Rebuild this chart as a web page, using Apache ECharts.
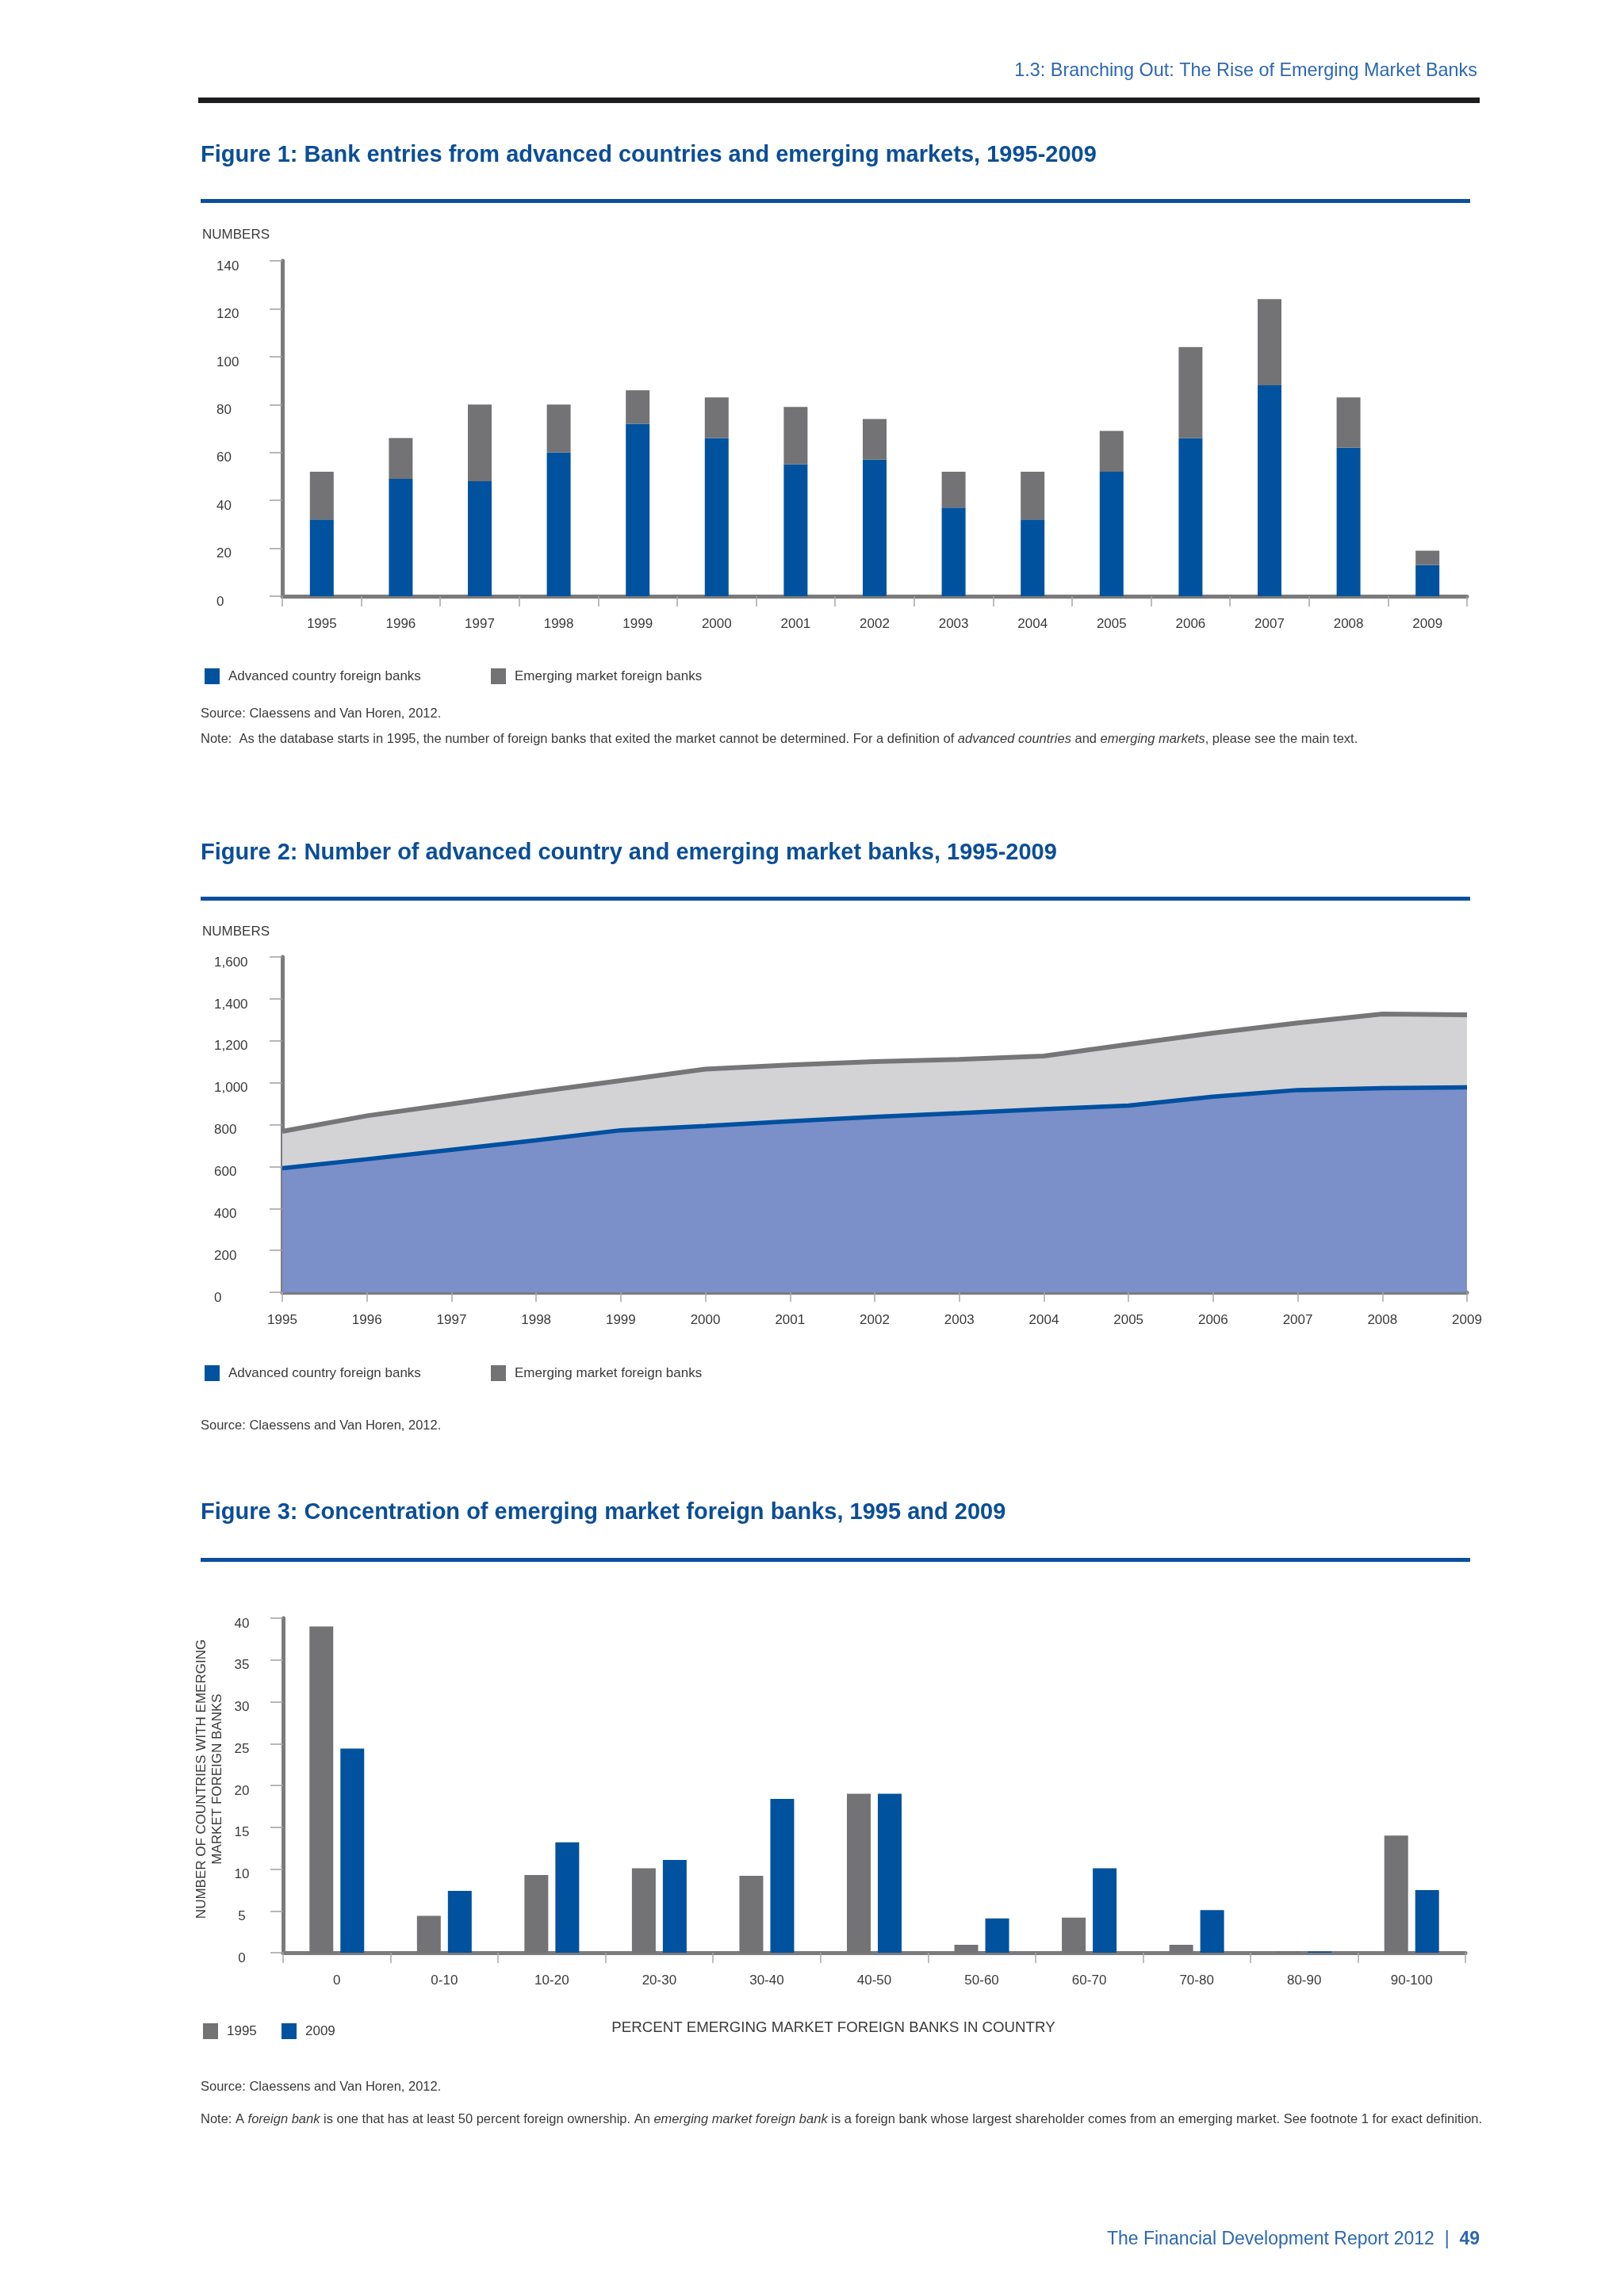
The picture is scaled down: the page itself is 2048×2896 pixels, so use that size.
<!DOCTYPE html>
<html>
<head>
<meta charset="utf-8">
<script src="https://cdn.jsdelivr.net/npm/echarts@6/dist/echarts.min.js"></script>
<style>
html,body{margin:0;padding:0;background:#ffffff;}
#c{width:2048px;height:2896px;}
</style>
</head>
<body>
<div id="c"></div>
<script>
// ---------- DATA ----------
const years = ['1995','1996','1997','1998','1999','2000','2001','2002','2003','2004','2005','2006','2007','2008','2009'];
// Figure 1: bank entries
const entriesAdvanced = [32, 49, 48, 60, 72, 66, 55, 57, 37, 32, 52, 66, 88, 62, 13];
const entriesEmerging = [20, 17, 32, 20, 14, 17, 24, 17, 15, 20, 17, 38, 36, 21, 6];
const fig1Ticks = {min: 0, max: 140, interval: 20};
// Figure 2: number of banks
const banksAdvanced = [592, 635, 680, 725, 773, 793, 816, 837, 855, 874, 891, 933, 965, 974, 978];
const banksEmerging = [176, 207, 218, 231, 237, 272, 269, 264, 256, 253, 292, 304, 320, 354, 346];
const fig2Ticks = {min: 0, max: 1600, interval: 200};
// Figure 3: concentration
const shareBins = ['0','0-10','10-20','20-30','30-40','40-50','50-60','60-70','70-80','80-90','90-100'];
const countries1995 = [39, 4.4, 9.3, 10.1, 9.2, 19, 0.95, 4.2, 0.95, 0.15, 14];
const countries2009 = [24.4, 7.4, 13.2, 11.1, 18.4, 19, 4.1, 10.1, 5.1, 0.15, 7.5];
const fig3Ticks = {min: 0, max: 40, interval: 5};

// ---------- STYLE ----------
const FONT = '"Liberation Sans", Arial, Helvetica, sans-serif';
const BLUE = '#00529f';
const GRAY = '#737375';
const AXIS = '#7b7b7d';
const TXT = '#3a3a3a';
const TITLE = '#0b4e98';
const HEAD = '#2c68b0';

const chart = echarts.init(document.getElementById('c'), null, {renderer: 'canvas'});

function yAxisCfg(t, align, margin) {
  return {
    type: 'value', min: t.min, max: t.max, interval: t.interval,
    axisLine: {show: true, lineStyle: {color: AXIS, width: 5}},
    axisTick: {show: true, length: 16, lineStyle: {color: '#a0a0a2', width: 1.5}},
    splitLine: {show: false},
    axisLabel: {
      color: TXT, fontFamily: FONT, fontSize: 17, align: align, margin: margin,
      verticalAlign: 'top', lineHeight: 14,
      formatter: v => v.toLocaleString('en-US')
    }
  };
}
function xAxisCfg(cats, boundary, tickLen) {
  return {
    type: 'category', data: cats, boundaryGap: boundary,
    axisLine: {show: true, lineStyle: {color: AXIS, width: 5}},
    axisTick: {show: true, length: tickLen, interval: 0, alignWithLabel: false, lineStyle: {color: '#a8a8aa', width: 1.5}},
    axisLabel: {color: TXT, fontFamily: FONT, fontSize: 17, margin: 27, interval: 0},
    splitLine: {show: false}
  };
}
function txt(x, y, text, size, color, opts) {
  opts = opts || {};
  return {
    type: 'text', x: x, y: y, rotation: opts.rotation || 0, silent: true,
    style: Object.assign({
      text: text, fill: color, fontFamily: FONT, fontSize: size,
      fontWeight: opts.weight || 'normal',
      textAlign: opts.align || 'left', textVerticalAlign: 'middle',
      align: opts.align || 'left', verticalAlign: 'middle'
    }, opts.extra || {})
  };
}
function rule(x, y, w, h, color) {
  return {type: 'rect', silent: true, shape: {x: x, y: y, width: w, height: h}, style: {fill: color}};
}
function legendCfg(name, left, top) {
  return {
    data: [name], left: left, top: top, icon: 'rect', itemWidth: 19, itemHeight: 20,
    selectedMode: false, padding: 0,
    textStyle: {color: TXT, fontFamily: FONT, fontSize: 17, padding: [0, 0, 0, 6]}
  };
}
const NS = 16.5;
const noteRich = {
  n: {fontFamily: FONT, fontSize: NS, fill: TXT, color: TXT},
  i: {fontFamily: FONT, fontSize: NS, fill: TXT, color: TXT, fontStyle: 'italic'}
};
const TS = 29;

const option = {
  backgroundColor: '#ffffff',
  animation: false,
  grid: [
    {left: 356, right: 198, top: 329, height: 423},
    {left: 356, right: 198, top: 1207, height: 423},
    {left: 357, right: 200, top: 2041, height: 422}
  ],
  xAxis: [
    Object.assign(xAxisCfg(years, true, 13), {gridIndex: 0}),
    Object.assign(xAxisCfg(years, false, 12), {gridIndex: 1}),
    Object.assign(xAxisCfg(shareBins, true, 13), {gridIndex: 2})
  ],
  yAxis: [
    Object.assign(yAxisCfg(fig1Ticks, 'left', 83), {gridIndex: 0}),
    Object.assign(yAxisCfg(fig2Ticks, 'left', 86), {gridIndex: 1}),
    Object.assign(yAxisCfg(fig3Ticks, 'center', 52), {gridIndex: 2})
  ],
  legend: [
    legendCfg('Advanced country foreign banks', 258, 843),
    legendCfg('Emerging market foreign banks', 619, 843),
    legendCfg('Advanced country foreign banks', 258, 1722),
    legendCfg('Emerging market foreign banks', 619, 1722),
    legendCfg('1995', 256, 2552),
    legendCfg('2009', 355, 2552)
  ],
  series: [
    {name: 'Advanced country foreign banks', type: 'bar', stack: 'entries', xAxisIndex: 0, yAxisIndex: 0,
     barWidth: 30, itemStyle: {color: BLUE}, data: entriesAdvanced},
    {name: 'Emerging market foreign banks', type: 'bar', stack: 'entries', xAxisIndex: 0, yAxisIndex: 0,
     barWidth: 30, itemStyle: {color: GRAY}, data: entriesEmerging},
    {name: 'Advanced country foreign banks', type: 'line', stack: 'banks', xAxisIndex: 1, yAxisIndex: 1, z: 4,
     symbol: 'none', lineStyle: {color: '#0050a0', width: 5.5}, itemStyle: {color: '#0050a0'},
     areaStyle: {color: '#7b8fc8', opacity: 1}, data: banksAdvanced},
    {name: 'Emerging market foreign banks', type: 'line', stack: 'banks', xAxisIndex: 1, yAxisIndex: 1, z: 3,
     symbol: 'none', lineStyle: {color: '#767678', width: 6}, itemStyle: {color: '#767678'},
     areaStyle: {color: '#d3d3d5', opacity: 1}, data: banksEmerging},
    {name: '1995', type: 'bar', xAxisIndex: 2, yAxisIndex: 2, barWidth: 30, barGap: '30%',
     itemStyle: {color: GRAY}, data: countries1995},
    {name: '2009', type: 'bar', xAxisIndex: 2, yAxisIndex: 2, barWidth: 30, barGap: '30%',
     itemStyle: {color: BLUE}, data: countries2009}
  ],
  graphic: [
    // page header
    txt(1863, 90, '1.3: Branching Out: The Rise of Emerging Market Banks', 23.4, HEAD, {align: 'right'}),
    rule(250, 123, 1616, 7, '#1d1d1f'),
    // figure 1
    txt(253, 196, 'Figure 1: Bank entries from advanced countries and emerging markets, 1995-2009', TS, TITLE, {weight: 'bold'}),
    rule(253, 251, 1601, 5, '#0a4f9e'),
    txt(255, 296, 'NUMBERS', 17, TXT),
    txt(253, 900, 'Source: Claessens and Van Horen, 2012.', NS, TXT),
    txt(253, 932, '', NS, TXT, {extra: {
      text: '{n|Note:  As the database starts in 1995, the number of foreign banks that exited the market cannot be determined. For a definition of }{i|advanced countries}{n| and }{i|emerging markets}{n|, please see the main text.}',
      rich: noteRich}}),
    // figure 2
    txt(253, 1076, 'Figure 2: Number of advanced country and emerging market banks, 1995-2009', TS, TITLE, {weight: 'bold'}),
    rule(253, 1131, 1601, 5, '#0a4f9e'),
    txt(255, 1175, 'NUMBERS', 17, TXT),
    txt(253, 1798, 'Source: Claessens and Van Horen, 2012.', NS, TXT),
    // figure 3
    txt(253, 1908, 'Figure 3: Concentration of emerging market foreign banks, 1995 and 2009', TS, TITLE, {weight: 'bold'}),
    rule(253, 1965, 1601, 5, '#0a4f9e'),
    txt(264, 2244, 'NUMBER OF COUNTRIES WITH EMERGING\nMARKET FOREIGN BANKS', 17, TXT,
        {align: 'center', rotation: Math.PI / 2, extra: {lineHeight: 20}}),
    txt(1051, 2558, 'PERCENT EMERGING MARKET FOREIGN BANKS IN COUNTRY', 18.7, TXT, {align: 'center'}),
    txt(253, 2632, 'Source: Claessens and Van Horen, 2012.', NS, TXT),
    txt(253, 2673, '', NS, TXT, {extra: {
      text: '{n|Note: A }{i|foreign bank}{n| is one that has at least 50 percent foreign ownership. An }{i|emerging market foreign bank}{n| is a foreign bank whose largest shareholder comes from an emerging market. See footnote 1 for exact definition.}',
      rich: noteRich}}),
    // footer
    txt(1866, 2825, '', 23, HEAD, {align: 'right', extra: {
      text: '{a|The Financial Development Report 2012  |  }{b|49}',
      rich: {
        a: {fontFamily: FONT, fontSize: 23, fill: HEAD, color: HEAD},
        b: {fontFamily: FONT, fontSize: 23, fill: HEAD, color: HEAD, fontWeight: 'bold'}
      }}})
  ]
};
chart.setOption(option);
</script>
</body>
</html>
